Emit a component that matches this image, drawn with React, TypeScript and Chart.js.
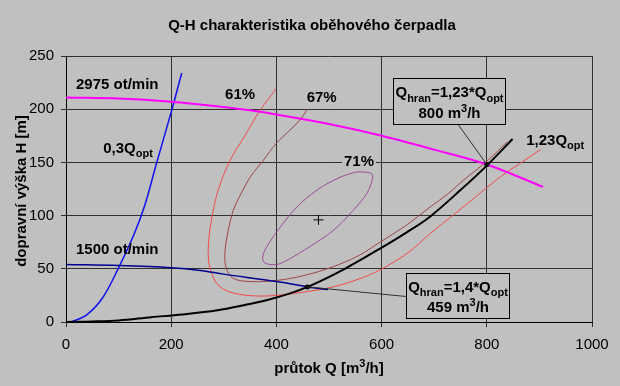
import React, { useEffect, useRef } from "react";
import { Chart, registerables } from "chart.js";
Chart.register(...registerables);

// ---------- data ----------
const xTickValues = [0, 200, 400, 600, 800, 1000];
const yTickValues = [0, 50, 100, 150, 200, 250];

// pump curve 2975 ot/min
const n2975Q = [0, 100, 200, 300, 363, 400, 500, 600, 700, 800, 907];
const n2975H = [211, 210, 207, 202, 198, 195, 186, 175, 162, 148, 127];

// pump curve 1500 ot/min
const n1500Q = [0, 100, 200, 255, 300, 400, 460, 498];
const n1500H = [54, 53, 51, 48.5, 45, 38, 33, 30.5];

// 0,3 Qopt system curve
const q03Q = [10, 40, 70, 101, 129, 150, 172, 201, 220];
const q03H = [0, 7, 23, 52, 82, 110, 149, 199, 234];

// 1,23 Qopt system curve
const q123Q = [0, 50, 100, 162, 220, 288, 340, 381, 420, 464, 530, 597, 650, 692, 750, 800, 849];
const q123H = [0, 0.5, 1.5, 4.5, 7, 11, 16, 20.5, 26, 34, 50, 69, 85, 99, 124, 147, 172];

// efficiency 61 %
const eff61Q = [399, 369, 340, 312, 290, 280, 272, 271, 280, 293, 320, 360, 400, 450, 508, 560, 597, 650, 692, 740, 787, 830, 863, 902];
const eff61H = [219, 199, 175, 152, 125, 105, 80, 58, 42, 33, 27, 24.5, 25, 28, 33, 41, 49, 65, 83, 102, 121, 138, 149, 162];

// efficiency 67 %
const eff67Q = [459, 445, 425, 400, 375, 350, 330, 318, 308, 302, 305, 318, 350, 400, 455, 508, 555, 597, 650, 692, 725, 755, 800, 838];
const eff67H = [200, 190, 180, 168, 152, 136, 118, 105, 85, 64, 50, 41, 38, 39, 44, 52, 62, 75, 92, 108, 120, 133, 151, 169];

// efficiency 71 % (closed)
const eff71Q = [565, 553, 521, 477, 439, 407, 382, 374, 378, 400, 420, 464, 508, 546, 572, 583, 581, 565];
const eff71H = [141, 141, 136, 124, 108, 89, 71, 61, 55.5, 54, 58, 71, 86, 105, 121, 135, 139.5, 141];

// optimum point
const optQ = [480];
const optH = [96];

// operating points
const opQ = [800, 459];
const opH = [148, 33];

// ---------- text ----------
const titleText = "Q-H charakteristika oběhového čerpadla";
const yTitleText = "dopravní výška H [m]";

type Part = [string, "n" | "sub" | "sup"];

const FONT = '"Liberation Sans", Arial, Helvetica, sans-serif';
const TXT = 15;

const toPoints = (qs: number[], hs: number[]) => qs.map((q, i) => ({ x: q, y: hs[i] }));

function smallSize(size: number) {
  return Math.round(size * 0.7);
}

function richWidth(ctx: CanvasRenderingContext2D, parts: Part[], size: number) {
  let w = 0;
  for (const [t, k] of parts) {
    ctx.font = `bold ${k === "n" ? size : smallSize(size)}px ${FONT}`;
    w += ctx.measureText(t).width;
  }
  return w;
}

function drawRich(
  ctx: CanvasRenderingContext2D,
  parts: Part[],
  x: number,
  y: number,
  align: "left" | "center",
  size: number,
  bg?: string
) {
  const w = richWidth(ctx, parts, size);
  let cx = align === "center" ? x - w / 2 : x;
  if (bg) {
    ctx.fillStyle = bg;
    ctx.fillRect(cx - 2, y - size * 0.6, w + 4, size * 1.2);
  }
  const base = y + size * 0.36;
  ctx.fillStyle = "#000";
  ctx.textBaseline = "alphabetic";
  ctx.textAlign = "left";
  for (const [t, k] of parts) {
    const s = k === "n" ? size : smallSize(size);
    ctx.font = `bold ${s}px ${FONT}`;
    const dy = k === "sub" ? size * 0.3 : k === "sup" ? -size * 0.42 : 0;
    ctx.fillText(t, cx, base + dy);
    cx += ctx.measureText(t).width;
  }
}

// label anchors in data units
const curveLabels: { parts: Part[]; q: number; h: number; align: "left" | "center"; bg?: boolean }[] = [
  { parts: [["2975 ot/min", "n"]], q: 19, h: 224, align: "left" },
  { parts: [["0,3Q", "n"], ["opt", "sub"]], q: 118, h: 164, align: "center" },
  { parts: [["1500 ot/min", "n"]], q: 19, h: 69, align: "left" },
  { parts: [["61%", "n"]], q: 331, h: 215, align: "center" },
  { parts: [["67%", "n"]], q: 486, h: 212, align: "center" },
  { parts: [["71%", "n"]], q: 557, h: 152, align: "center", bg: true },
  { parts: [["1,23Q", "n"], ["opt", "sub"]], q: 875, h: 171.5, align: "left" },
];

const boxes: {
  q0: number; q1: number; h0: number; h1: number;
  line1: Part[]; line2: Part[];
  fromQ: number; fromH: number; toQ: number; toH: number;
}[] = [
  {
    q0: 622, q1: 835, h0: 229, h1: 186,
    line1: [["Q", "n"], ["hran", "sub"], ["=1,23*Q", "n"], ["opt", "sub"]],
    line2: [["800 m", "n"], ["3", "sup"], ["/h", "n"]],
    fromQ: 745, fromH: 186, toQ: 800, toH: 148,
  },
  {
    q0: 646, q1: 842, h0: 46, h1: 3.5,
    line1: [["Q", "n"], ["hran", "sub"], ["=1,4*Q", "n"], ["opt", "sub"]],
    line2: [["459 m", "n"], ["3", "sup"], ["/h", "n"]],
    fromQ: 646, fromH: 24, toQ: 459, toH: 33,
  },
];

const decorPlugin = {
  id: "decor",
  beforeDraw(chart: any) {
    const ctx = chart.ctx as CanvasRenderingContext2D;
    ctx.save();
    ctx.fillStyle = "#c0c0c0";
    ctx.fillRect(0, 0, chart.width, chart.height);
    ctx.restore();
  },
  afterDatasetsDraw(chart: any) {
    const ctx = chart.ctx as CanvasRenderingContext2D;
    const xs = chart.scales.x;
    const ys = chart.scales.y;
    const X = (v: number) => xs.getPixelForValue(v);
    const Y = (v: number) => ys.getPixelForValue(v);
    ctx.save();
    for (const b of boxes) {
      ctx.strokeStyle = "#303030";
      ctx.lineWidth = 1;
      ctx.beginPath();
      ctx.moveTo(X(b.fromQ), Y(b.fromH));
      ctx.lineTo(X(b.toQ), Y(b.toH));
      ctx.stroke();
      const x0 = Math.round(X(b.q0)) + 0.5;
      const x1 = Math.round(X(b.q1)) + 0.5;
      const y0 = Math.round(Y(b.h0)) + 0.5;
      const y1 = Math.round(Y(b.h1)) + 0.5;
      ctx.fillStyle = "#c0c0c0";
      ctx.fillRect(x0, y0, x1 - x0, y1 - y0);
      ctx.strokeStyle = "#000";
      ctx.strokeRect(x0, y0, x1 - x0, y1 - y0);
      const cx = (x0 + x1) / 2;
      const hgt = y1 - y0;
      drawRich(ctx, b.line1, cx, y0 + hgt * 0.29, "center", TXT);
      drawRich(ctx, b.line2, cx, y0 + hgt * 0.74, "center", TXT);
    }
    for (const l of curveLabels) {
      drawRich(ctx, l.parts, X(l.q), Y(l.h), l.align, TXT, l.bg ? "#c0c0c0" : undefined);
    }
    ctx.restore();
  },
  afterDraw(chart: any) {
    const ctx = chart.ctx as CanvasRenderingContext2D;
    const area = chart.chartArea;
    ctx.save();
    drawRich(ctx, [[titleText, "n"]], 312, 25, "center", TXT);
    drawRich(ctx, [["průtok Q [m", "n"], ["3", "sup"], ["/h]", "n"]], (area.left + area.right) / 2, 368, "center", TXT);
    ctx.translate(21, (area.top + area.bottom) / 2 + 2);
    ctx.rotate(-Math.PI / 2);
    drawRich(ctx, [[yTitleText, "n"]], 0, 0, "center", TXT);
    ctx.restore();
  },
};

export default function App() {
  const ref = useRef<HTMLCanvasElement | null>(null);
  useEffect(() => {
    document.body.style.margin = "0";
    const canvas = ref.current!;
    const line = (qs: number[], hs: number[], color: string, width: number, order: number) => ({
      data: toPoints(qs, hs),
      showLine: true,
      borderColor: color,
      backgroundColor: color,
      borderWidth: width,
      pointRadius: 0,
      tension: 0.35,
      order,
    });
    const chart = new Chart(canvas, {
      type: "scatter",
      data: {
        datasets: [
          line(eff61Q, eff61H, "#f04a4a", 1, 9),
          line(eff67Q, eff67H, "#a04545", 1, 8),
          line(eff71Q, eff71H, "#9a4c9a", 1, 7),
          line(q03Q, q03H, "#1010f0", 1.5, 6),
          line(n1500Q, n1500H, "#000090", 1.5, 5),
          line(n2975Q, n2975H, "#ff00ff", 2, 4),
          line(q123Q, q123H, "#000000", 2, 3),
          {
            data: toPoints(optQ, optH),
            showLine: false,
            pointStyle: "cross",
            pointRadius: 5,
            borderColor: "#000",
            borderWidth: 1,
            order: 2,
          },
          {
            data: toPoints(opQ, opH),
            showLine: false,
            pointStyle: "circle",
            pointRadius: 2.5,
            backgroundColor: "#000",
            borderColor: "#000",
            borderWidth: 0,
            order: 1,
          },
        ] as any,
      },
      options: {
        responsive: false,
        animation: false,
        layout: { padding: { top: 56, right: 28, left: 0, bottom: 0 } },
        plugins: { legend: { display: false }, tooltip: { enabled: false }, title: { display: false } },
        scales: {
          x: {
            type: "linear",
            min: 0,
            max: 1000,
            afterFit: (s: any) => { s.height = 64; },
            afterBuildTicks: (s: any) => { s.ticks = xTickValues.map((v) => ({ value: v })); },
            ticks: {
              color: "#000",
              font: { family: FONT, size: TXT },
              padding: 9,
              maxRotation: 0,
              callback: (v: any) => String(v),
            },
            grid: { color: "#303030", lineWidth: 1, tickLength: 5 },
            border: { color: "#000", width: 1 },
          },
          y: {
            type: "linear",
            min: 0,
            max: 250,
            afterFit: (s: any) => { s.width = 66; },
            afterBuildTicks: (s: any) => { s.ticks = yTickValues.map((v) => ({ value: v })); },
            ticks: { color: "#000", font: { family: FONT, size: TXT }, padding: 7, callback: (v: any) => String(v) },
            grid: { color: "#303030", lineWidth: 1, tickLength: 5 },
            border: { color: "#000", width: 1 },
          },
        },
      },
      plugins: [decorPlugin],
    });
    return () => chart.destroy();
  }, []);
  return (
    <div style={{ position: "fixed", left: 0, top: 0, width: 620, height: 386 }}>
      <canvas ref={ref} width={620} height={386} style={{ display: "block" }} />
    </div>
  );
}
